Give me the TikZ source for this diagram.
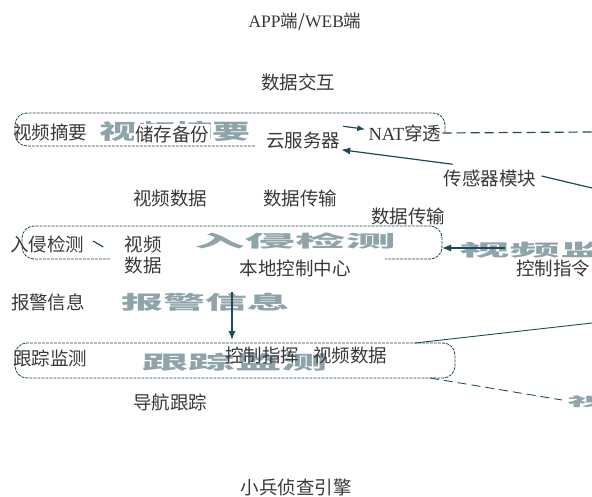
\documentclass[tikz,border=0pt]{standalone}
\usepackage{fontspec}
\setmainfont{Liberation Serif}
\newfontfamily\cjk{Noto Sans CJK SC}
\usetikzlibrary{arrows.meta}
\definecolor{ink}{HTML}{1E4A55}
\begin{document}
\begin{tikzpicture}[x=1pt,y=-1pt,
  lab/.style={font=\cjk\fontsize{18.5}{18.5}\selectfont, text=black!78, inner sep=1pt},
  bigtxt/.style={font=\cjk\bfseries\fontsize{21}{21}\selectfont, text=ink, opacity=0.5, inner sep=0pt},
  boxline/.style={draw=ink, dashed, dash pattern=on 3pt off 1pt, rounded corners=12pt, line width=0.8pt},
  conn/.style={draw=ink, line width=1.2pt},
  arr/.style={conn, -{Latex[length=9pt,width=7pt]}},
  dconn/.style={draw=ink, line width=1.2pt, dash pattern=on 9pt off 5pt}
]
\useasboundingbox (0,0) rectangle (592,497);

% titles
\node[lab, font=\fontsize{17.5}{17.5}\selectfont\cjk] (app) at (305,22) {{\rmfamily APP}端/{\rmfamily WEB}端};
\node[lab] (jiaohu) at (298,82) {数据交互};
\node[lab] (engine) at (296,487) {小兵侦查引擎};

% row 1
\draw[boxline] (255,146) -| (15,113) -| (445,132);
\node[bigtxt] (b1) at (175,131) {\scalebox{1.8}[1]{视频摘要}};
\node[lab] (zhaiyao) at (50,132) {视频摘要};
\node[lab, fill=white] (beifen) at (172,134) {储存备份};
\node[lab, fill=white] (cloud) at (303,140) {云服务器};
\node[lab, fill=white] (nat) at (405,133) {{\rmfamily NAT}穿透};
\node[lab] (sensor) at (490,178) {传感器模块};
\coordinate (r1) at (592,132);
\coordinate (r1b) at (592,188);
\draw[dconn] (nat.east) -- (r1);
\draw[arr] (sensor.north west) ++(10,-4) coordinate (s0) -- (cloud.south east);
\draw[conn, -{Latex[length=8pt,width=6pt]}] (cloud.north east) ++(2,-4) coordinate (c0) -- ([xshift=-2pt,yshift=-6pt]nat.north west);
\draw[conn] (sensor.east) ++(4,-2) coordinate (s1) -- (r1b);

% labels between rows
\node[lab] (vdata1) at (170,198) {视频数据};
\node[lab] (trans1) at (300,198) {数据传输};
\node[lab] (trans2) at (408,216) {数据传输};

% row 2
\draw[boxline] (110,259) -| (22,226) -| (442,259) -- (385,259);
\node[bigtxt] (b2) at (295,241) {\scalebox{2.4}[0.8]{入侵检测}};
\node[bigtxt] (b2r) at (560,250) {\scalebox{2.4}[0.8]{视频监控}};
\node[lab] (ruqin) at (47,244) {入侵检测};
\node[lab, align=center] (vdata2) at (143,255) {视频\\[2pt]数据};
\node[lab] (local) at (295,268) {本地控制中心};
\node[lab] (cmd) at (553,268) {控制指令};
\coordinate (r2) at (505,248);
\draw[arr] (r2) -- (442,248);
\draw[conn] (ruqin.east) ++(8,-3) coordinate (q0) -- ++(10,6);

% row 3
\node[lab] (alarm) at (48,302) {报警信息};
\node[bigtxt] (b3) at (205,302) {\scalebox{2.0}[0.9]{报警信息}};

% row 4
\draw[boxline] (15,343) rectangle (455,378);
\node[bigtxt] (b4) at (235,362) {\scalebox{2.2}[0.9]{跟踪监测}};
\node[lab] (track) at (50,358) {跟踪监测};
\node[lab] (cmd2) at (262,355) {控制指挥};
\node[lab] (vdata3) at (350,355) {视频数据};
\node[lab] (nav) at (170,402) {导航跟踪};
\coordinate (a0) at (232,292);
\draw[arr] (a0) -- (232,340);
\coordinate (r4a) at (592,323);
\coordinate (r4b) at (562,400);
\draw[conn, line width=0.9pt] (415,343) -- (r4a);
\draw[dconn, line width=0.9pt] (430,378) -- (r4b);
\node[bigtxt] (b4r) at (590,402) {\scalebox{2.2}[0.6]{视}};
\end{tikzpicture}
\end{document}
